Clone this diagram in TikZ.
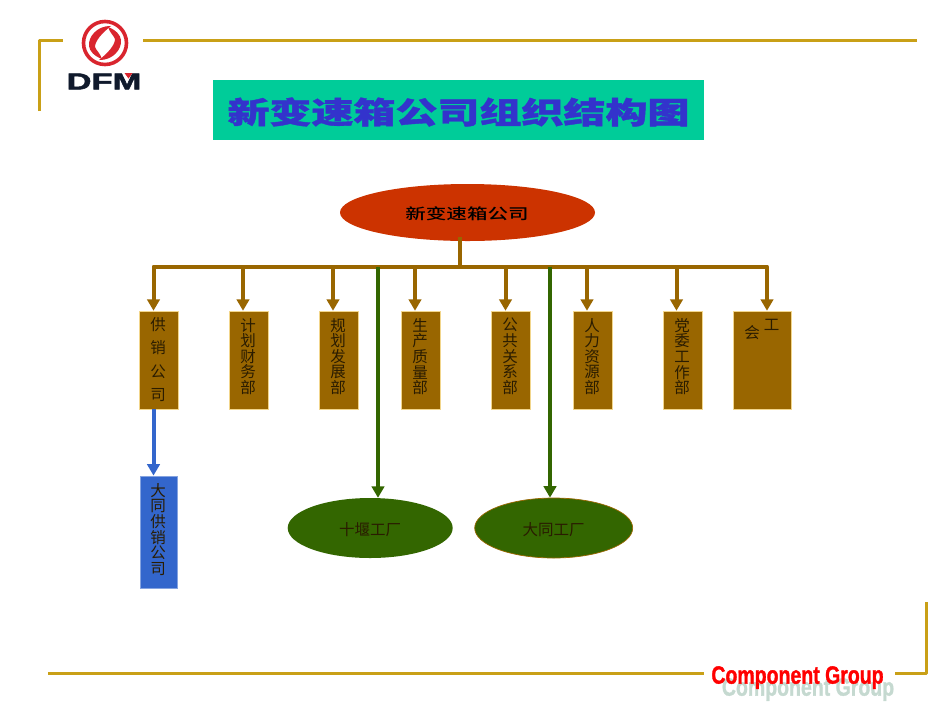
\documentclass[tikz,border=0pt]{standalone}
\usepackage{fontspec}
\usetikzlibrary{arrows.meta,shapes.geometric}
\setmainfont{Liberation Sans}
\newfontfamily\cjk{Noto Sans CJK SC}
\newfontfamily\cjkheavy[FakeBold=1.2]{Noto Sans CJK SC Black}
\newfontfamily\rootfont{Noto Sans CJK SC Medium}
\newfontfamily\brandfont[FakeBold=1.5]{Liberation Sans Bold}
\newfontfamily\logofont[FakeBold=2]{Liberation Sans Bold}
\definecolor{gold}{HTML}{C9A017}
\definecolor{brown}{HTML}{996600}
\definecolor{boxedge}{HTML}{F2D68C}
\definecolor{leaf}{HTML}{336600}
\definecolor{blueb}{HTML}{3366CC}
\definecolor{teal}{HTML}{00CC99}
\definecolor{rust}{HTML}{CC3300}
\definecolor{titleblue}{HTML}{3333CC}
\definecolor{dfmnavy}{HTML}{101A2C}
\definecolor{logored}{HTML}{D9252E}
\definecolor{ink}{HTML}{2A1C00}
\definecolor{brandshadow}{HTML}{C5D9D0}
\tikzset{
  frameline/.style={draw=gold,line width=3pt,line join=round},
  deptbox/.style={draw=boxedge,line width=0.5pt,fill=brown,minimum height=98pt,inner sep=0pt},
  vtext/.style={text=ink,font=\cjk\fontsize{15.5}{15.6}\selectfont,align=center,text width=16pt,inner sep=0pt},
  widetext/.style={vtext,font=\cjk\fontsize{15.5}{23.5}\selectfont},
  busline/.style={draw=brown,line width=4pt,line join=round},
  arrowtip/.style={-{Triangle[width=12.5pt,length=11.5pt]}},
  busarrow/.style={busline,arrowtip},
  greenarrow/.style={draw=leaf,line width=4pt,arrowtip},
  bluearrow/.style={draw=blueb,line width=4pt,arrowtip},
  factory/.style={ellipse,fill=leaf,minimum width=165pt,minimum height=60pt,inner sep=0pt},
  factorytext/.style={inner sep=0pt,text=ink,font=\cjk\fontsize{15.5}{17}\selectfont},
  brand/.style={font=\brandfont\fontsize{25}{25}\selectfont,xscale=0.78,inner sep=0pt},
  flame/.style={fill=logored}
}
\begin{document}
\begin{tikzpicture}[x=1pt,y=-1pt]
\useasboundingbox (0,0) rectangle (950,713);
% corner frames
\draw[frameline] (39,111) -- (39,40) -- (63,40);
\draw[frameline] (143,40) -- (917,40);
\draw[frameline] (926,602) -- (926,673) -- (895,673);
\draw[frameline] (48,673) -- (704,673);
% logo
\draw[logored,line width=3.6pt] (105,43) circle (21.5pt);
\begin{scope}[shift={(105,43)}]
\fill[flame] (6,-17) .. controls (-8,-17.5) and (-17,-6) .. (-16,3) .. controls (-15.5,8) and (-11,13) .. (-3,16) .. controls (-5,10) and (-9,7) .. (-10,4) .. controls (-10,-2) and (-3,-10) .. (6,-17) -- cycle;
\fill[flame,rotate=180] (6,-17) .. controls (-8,-17.5) and (-17,-6) .. (-16,3) .. controls (-15.5,8) and (-11,13) .. (-3,16) .. controls (-5,10) and (-9,7) .. (-10,4) .. controls (-10,-2) and (-3,-10) .. (6,-17) -- cycle;
\end{scope}
\node[inner sep=0pt,text=dfmnavy,font=\logofont\fontsize{23}{23}\selectfont,xscale=1.5] (logotext) at (104,81.5) {DFM};
\fill[logored] (124.5,73) -- (132.5,73) -- (128.5,78.5) -- cycle;
% title
\node[fill=teal,minimum width=491pt,minimum height=60.5pt,inner sep=0pt] (title) at (458.5,110) {};
\node[inner sep=0pt,text=titleblue,font=\cjkheavy\fontsize{30}{30}\selectfont,xscale=1.4] (titletext) at (458.5,112) {新变速箱公司组织结构图};
% top ellipse
\node[ellipse,fill=rust,minimum width=255pt,minimum height=57pt,inner sep=0pt] (root) at (467.5,212.5) {};
\node[inner sep=0pt,text=black,font=\rootfont\fontsize{15}{16}\selectfont,xscale=1.37] (roottext) at (467,214) {新变速箱公司};
% department boxes
\node[deptbox,minimum width=39pt] (d1) at (158.5,360) {};
\node[deptbox,minimum width=39pt] (d2) at (248.5,360) {};
\node[deptbox,minimum width=39pt] (d3) at (338.5,360) {};
\node[deptbox,minimum width=39pt] (d4) at (420.5,360) {};
\node[deptbox,minimum width=39pt] (d5) at (510.5,360) {};
\node[deptbox,minimum width=39pt] (d6) at (592.5,360) {};
\node[deptbox,minimum width=39pt] (d7) at (682.5,360) {};
\node[deptbox,minimum width=58pt] (d8) at (762.5,360) {};
\node[widetext,anchor=north] (t1) at (158,317) {供\\销\\公\\司};
\node[vtext,anchor=north] (t2) at (248,318) {计\\划\\财\\务\\部};
\node[vtext,anchor=north] (t3) at (338,318) {规\\划\\发\\展\\部};
\node[vtext,anchor=north] (t4) at (420,318) {生\\产\\质\\量\\部};
\node[vtext,anchor=north] (t5) at (510,318) {公\\共\\关\\系\\部};
\node[vtext,anchor=north] (t6) at (592,318) {人\\力\\资\\源\\部};
\node[vtext,anchor=north] (t7) at (682,318) {党\\委\\工\\作\\部};
\node[vtext,anchor=center] (t8a) at (771.5,325) {工};
\node[vtext,anchor=center] (t8b) at (752,333) {会};
% blue box
\node[draw=blueb!60!white,line width=0.8pt,fill=blueb,minimum width=37pt,minimum height=112pt,inner sep=0pt] (sub) at (158.5,532) {};
\node[vtext,anchor=north] (subt) at (158,483) {大\\同\\供\\销\\公\\司};
% factories
\node[factory] (f1) at (370.2,528) {};
\node[factorytext] (f1t) at (370.2,529.5) {十堰工厂};
\node[factory,draw=brown,line width=0.7pt,minimum width=158pt] (f2) at (553.7,528) {};
\node[factorytext] (f2t) at (553.7,529.5) {大同工厂};
% connectors
\coordinate (stemtop) at (460,237);
\coordinate (busl) at (153.5,266.5);
\coordinate (busr) at (767,266.5);
\coordinate (b2) at (243,266.5);
\coordinate (b3) at (333,266.5);
\coordinate (b4) at (415,266.5);
\coordinate (b5) at (505.5,266.5);
\coordinate (b6) at (587,266.5);
\coordinate (b7) at (676.5,266.5);
\coordinate (g1) at (378,266.5);
\coordinate (g2) at (550,266.5);
\draw[busline] (stemtop) -- (stemtop |- busl);
\draw[busarrow] (busr) -- (busl) -- (busl |- d1.north);
\draw[busarrow] (busl) -- (busr) -- (busr |- d8.north);
\draw[busarrow] (b2) -- (b2 |- d2.north);
\draw[busarrow] (b3) -- (b3 |- d3.north);
\draw[busarrow] (b4) -- (b4 |- d4.north);
\draw[busarrow] (b5) -- (b5 |- d5.north);
\draw[busarrow] (b6) -- (b6 |- d6.north);
\draw[busarrow] (b7) -- (b7 |- d7.north);
\draw[greenarrow] (g1) -- (g1 |- f1.north);
\draw[greenarrow] (g2) -- (g2 |- f2.north);
\draw[bluearrow] (busl |- d1.south) -- (busl |- sub.north);
% brand
\node[brand,text=brandshadow] (brand2) at (808,689.5) {Component Group};
\node[brand,text=red] (brand1) at (797.5,677.5) {Component Group};
\end{tikzpicture}
\end{document}
